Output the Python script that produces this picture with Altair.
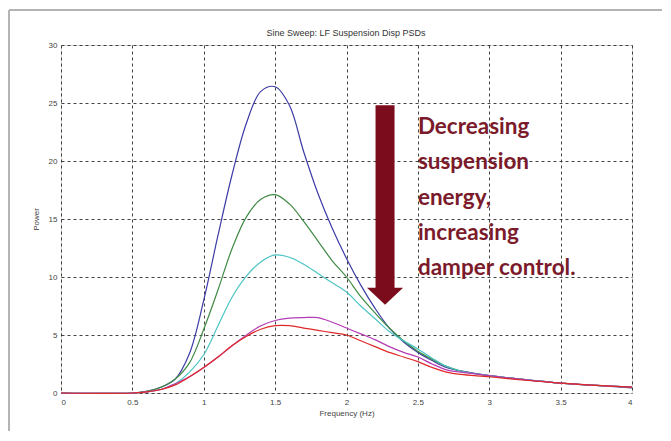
import altair as alt
import pandas as pd

# ---- data ----
freq = [0, 0.5, 0.6, 0.7, 0.8, 0.9, 1.0, 1.1, 1.2, 1.3, 1.4, 1.5, 1.6, 1.7, 1.8, 1.9,
        2.0, 2.1, 2.2, 2.3, 2.4, 2.5, 2.6, 2.7, 2.8, 3.0, 3.25, 3.5, 3.75, 4.0]

blue = [0, 0, 0.15, 0.5, 1.2, 3.4, 8.0, 13.6, 18.9, 23.3, 26.0, 26.4, 24.8, 20.8, 17.2, 14.2,
        11.6, 9.3, 7.3, 5.6, 4.4, 3.5, 2.8, 2.2, 1.9, 1.5, 1.15, 0.85, 0.65, 0.45]
green = [0, 0, 0.15, 0.5, 1.2, 2.6, 5.5, 8.9, 12.5, 15.2, 16.7, 17.1, 16.3, 14.8, 13.1, 11.4,
         10.0, 8.3, 6.9, 5.6, 4.5, 3.6, 2.9, 2.3, 1.9, 1.5, 1.15, 0.85, 0.65, 0.5]
cyan = [0, 0, 0.1, 0.3, 0.8, 1.8, 3.3, 5.8, 8.3, 10.1, 11.3, 11.9, 11.7, 11.1, 10.3, 9.5,
        8.7, 7.5, 6.4, 5.3, 4.5, 3.8, 3.0, 2.3, 1.9, 1.5, 1.15, 0.85, 0.65, 0.5]
magenta = [0, 0, 0.1, 0.3, 0.8, 1.4, 2.2, 3.1, 4.1, 5.0, 5.8, 6.25, 6.45, 6.5, 6.5, 6.1,
           5.6, 5.1, 4.6, 4.0, 3.5, 3.1, 2.5, 2.0, 1.8, 1.5, 1.15, 0.85, 0.65, 0.5]
red = [0, 0, 0.1, 0.3, 0.7, 1.4, 2.2, 3.1, 4.1, 4.9, 5.5, 5.8, 5.8, 5.6, 5.4, 5.2,
       5.0, 4.5, 4.0, 3.5, 3.1, 2.7, 2.2, 1.8, 1.6, 1.4, 1.1, 0.85, 0.65, 0.5]

series_names = ["S1", "S2", "S3", "S4", "S5"]
series_values = [blue, green, cyan, magenta, red]
series_colors = ["#3c3ca6", "#3f8a45", "#4cc4c4", "#b43cb4", "#e02828"]

x_ticks = [0, 0.5, 1, 1.5, 2, 2.5, 3, 3.5, 4]
y_ticks = [0, 5, 10, 15, 20, 25, 30]

title_text = ["Sine Sweep: LF Suspension Disp PSDs"]

annot_lines = ["Decreasing", "suspension", "energy,", "increasing", "damper control."]
annot_y = [22.35, 19.3, 16.25, 13.2, 10.15]
annot_x = 2.5

arrow_x = 2.27
arrow_top = 24.8
arrow_bottom = 9.0
arrow_tip = 8.3

# ---- tables ----
rows = []
for name, vals in zip(series_names, series_values):
    for f, v in zip(freq, vals):
        rows.append({"series": name, "freq": f, "power": v})
df = pd.DataFrame(rows)

df_text = pd.DataFrame({"line": annot_lines, "y": annot_y, "x": [annot_x] * len(annot_lines)})
df_arrow = pd.DataFrame({"x": [arrow_x], "y": [arrow_top], "y2": [arrow_bottom], "tip": [arrow_tip]})
df_title = pd.DataFrame({"t": title_text})

xscale = alt.Scale(domain=[0, 4], nice=False, zero=False)
yscale = alt.Scale(domain=[0, 30], nice=False)

axis_common = dict(grid=True, gridDash=[3, 3], gridColor="#222", gridOpacity=0.85,
                   ticks=False, domain=False,
                   labelFont="Liberation Sans", labelFontSize=8, labelColor="#444",
                   titleFont="Liberation Sans", titleFontSize=8, titleFontWeight="normal",
                   titleColor="#444")

lines = alt.Chart(df).mark_line(strokeWidth=1.2, interpolate="catmull-rom").encode(
    x=alt.X("freq:Q", scale=xscale,
            axis=alt.Axis(values=x_ticks, format="~g", title="Frequency (Hz)",
                          labelPadding=5, titlePadding=3, **axis_common)),
    y=alt.Y("power:Q", scale=yscale,
            axis=alt.Axis(values=y_ticks, title="Power",
                          labelPadding=4, titlePadding=8, **axis_common)),
    color=alt.Color("series:N", scale=alt.Scale(domain=series_names, range=series_colors), legend=None),
    order=alt.Order("freq:Q"),
)

shaft = alt.Chart(df_arrow).mark_rule(strokeWidth=19, color="#7a0c1c", strokeCap="butt").encode(
    x=alt.X("x:Q", scale=xscale), y=alt.Y("y:Q", scale=yscale), y2="y2:Q"
)
head = alt.Chart(df_arrow).mark_point(
    shape="M -1 -0.5 L 1 -0.5 L 0 0.45 Z", filled=True, size=1300, color="#7a0c1c", opacity=1
).encode(x=alt.X("x:Q", scale=xscale), y=alt.Y("tip:Q", scale=yscale))

text = alt.Chart(df_text).mark_text(
    align="left", baseline="alphabetic", font="Lato", fontWeight="bold", fontSize=22.5,
    color="#7b1a2a"
).encode(x=alt.X("x:Q", scale=xscale), y=alt.Y("y:Q", scale=yscale), text="line:N")

title = alt.Chart(df_title).mark_text(
    align="center", baseline="alphabetic", font="Liberation Sans", fontSize=9, color="#333"
).encode(x=alt.value(285), y=alt.value(-9), text="t:N")

frame_left = alt.Chart(df_arrow).mark_rule(color="#b4b4b4", strokeWidth=2).encode(
    x=alt.value(-52), y=alt.value(-35), y2=alt.value(420)
)
frame_top = alt.Chart(df_arrow).mark_rule(color="#b4b4b4", strokeWidth=2).encode(
    x=alt.value(-52), x2=alt.value(640), y=alt.value(-35)
)

chart = alt.layer(frame_left, frame_top, lines, shaft, head, text, title).properties(
    width=571, height=348,
    autosize=alt.AutoSizeParams(type="none"),
    padding={"left": 53, "top": 37, "right": 30, "bottom": 38},
).configure_view(
    stroke="#333", strokeWidth=1
).configure(background="white")

chart.save("out.html", embed_options={"renderer": "svg", "actions": False})
